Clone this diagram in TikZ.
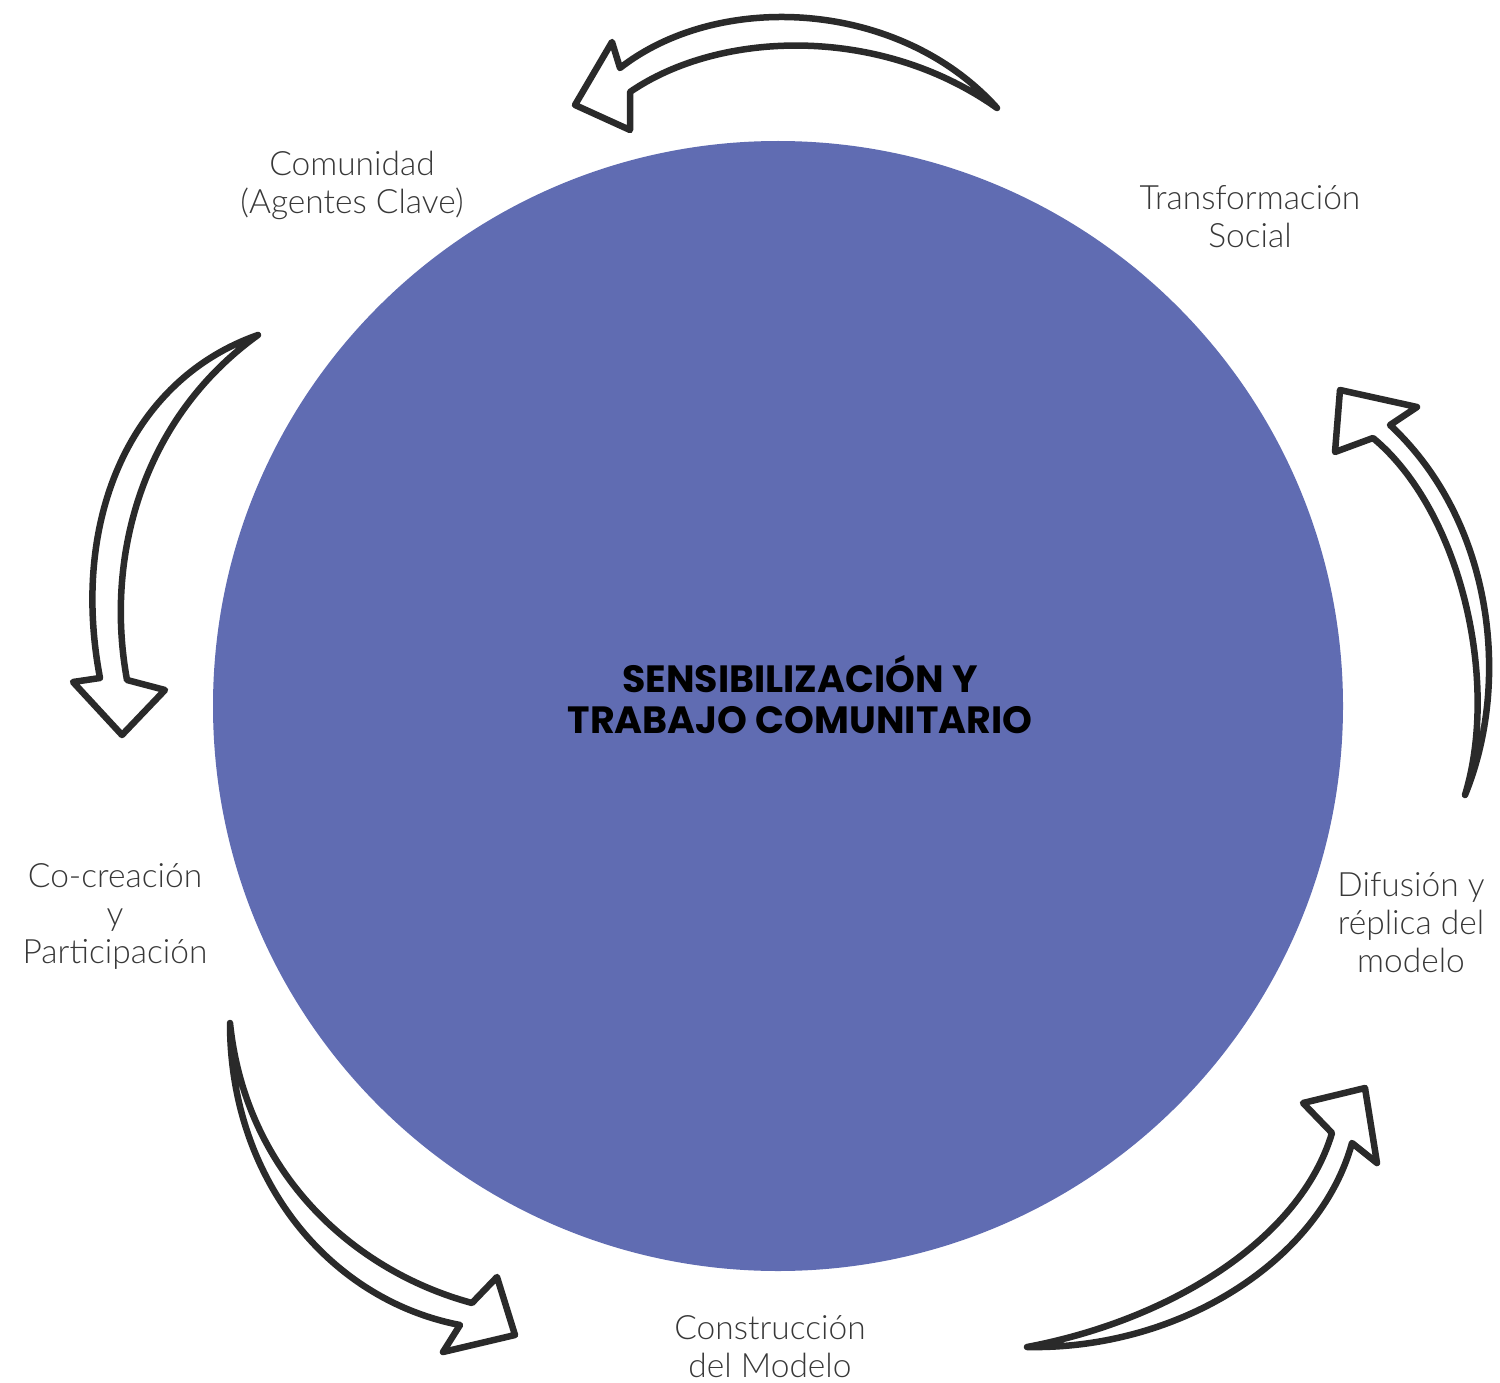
\documentclass[tikz,border=0pt]{standalone}
\usepackage{fontspec}
\IfFontExistsTF{Lato Light}{\setmainfont{Lato Light}}{\setmainfont{Liberation Sans}}
\newfontfamily\handfont{Poppins}
\definecolor{hubblue}{HTML}{606CB2}
\definecolor{labelgray}{HTML}{383838}
\definecolor{inkblack}{HTML}{2A2A2A}
\begin{document}
\begin{tikzpicture}[x=1pt,y=-1pt,
  lbl/.style={align=center,text=labelgray,font=\fontsize{33.5}{38}\selectfont,inner sep=0pt},
  hollowarrow/.style={draw=inkblack,line width=6.5pt,line join=round,line cap=round,fill=white}]
\useasboundingbox (0,0) rectangle (1500,1383);
\fill[white] (0,0) rectangle (1500,1383);
% central circle
\node[circle,fill=hubblue,minimum size=1130pt,inner sep=0pt] (hub) at (778,706) {};
\node[align=center,inner sep=0pt,font=\handfont\bfseries\fontsize{38}{41}\selectfont,text=black] (title) at (800,695) {SENSIBILIZACIÓN Y\\TRABAJO COMUNITARIO};
% labels
\node[lbl] (comunidad) at (352,185) {Comunidad\\(Agentes Clave)};
\node[lbl] (transf) at (1250,217) {Transformación\\Social};
\node[lbl] (cocrea) at (115,916) {Co-creación\\y\\Participación};
\node[lbl] (difusion) at (1411,923) {Difusión y\\réplica del\\modelo};
\node[lbl] (constr) at (770,1347) {Construcción\\del Modelo};
% arrow top
\draw[hollowarrow] (997,108) .. controls (900,0) and (720,-10) .. (620,68)
  -- (612,42) -- (575,105) -- (630,130) -- (630,92)
  .. controls (720,30) and (880,25) .. (997,108) -- cycle;
% arrow left
\draw[hollowarrow] (258,335) .. controls (130,380) and (70,520) .. (100,678)
  -- (73,682) -- (122,735) -- (165,690) -- (127,680)
  .. controls (105,560) and (140,420) .. (258,335) -- cycle;
% arrow right
\draw[hollowarrow] (1465,795) .. controls (1512,680) and (1492,520) .. (1390,425)
  -- (1417,407) -- (1340,390) -- (1335,452) -- (1373,438)
  .. controls (1460,510) and (1500,680) .. (1465,795) -- cycle;
% arrow lower left
\draw[hollowarrow] (230,1023) .. controls (230,1180) and (330,1300) .. (460,1325)
  -- (443,1352) -- (515,1335) -- (497,1277) -- (472,1303)
  .. controls (350,1270) and (245,1170) .. (230,1023) -- cycle;
% arrow lower right
\draw[hollowarrow] (1027,1347) .. controls (1180,1350) and (1320,1260) .. (1352,1143)
  -- (1377,1163) -- (1365,1088) -- (1303,1103) -- (1332,1133)
  .. controls (1300,1240) and (1170,1320) .. (1027,1347) -- cycle;
\end{tikzpicture}
\end{document}
